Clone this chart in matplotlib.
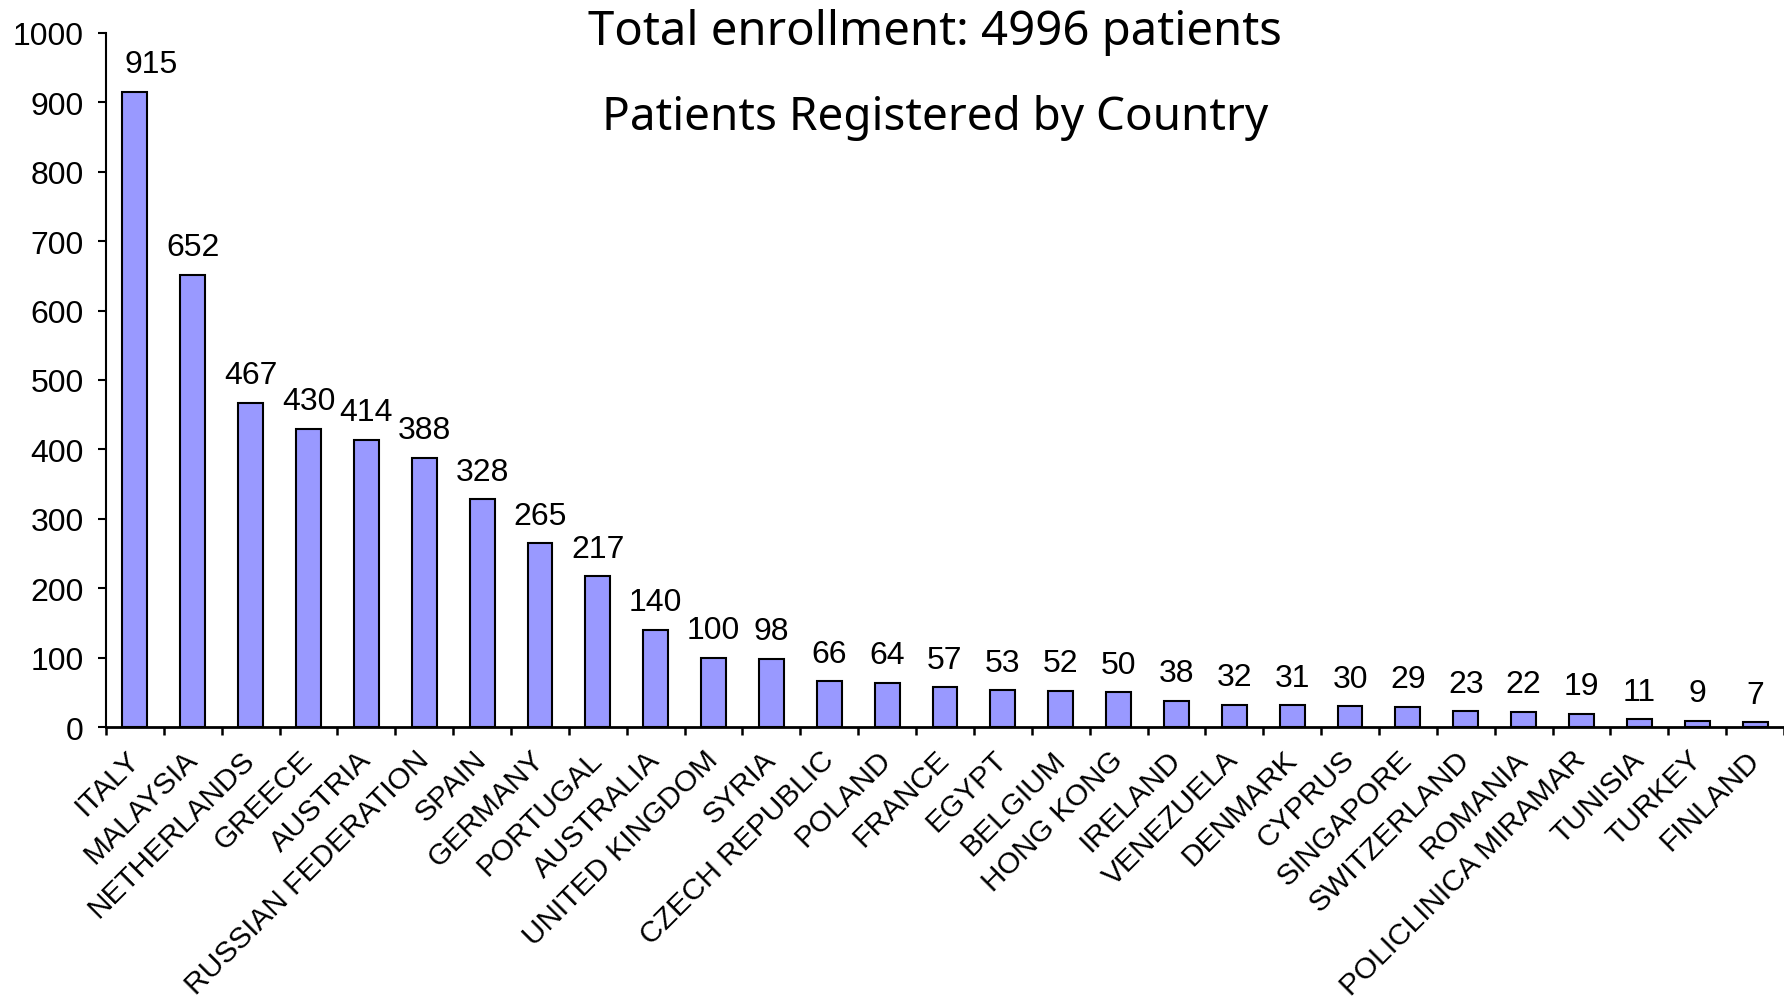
import numpy as np
import matplotlib as mpl
mpl.use('Agg')
import matplotlib.pyplot as plt
from matplotlib.ticker import FixedLocator

# data
countries = ['ITALY', 'MALAYSIA', 'NETHERLANDS', 'GREECE', 'AUSTRIA',
             'RUSSIAN FEDERATION', 'SPAIN', 'GERMANY', 'PORTUGAL',
             'AUSTRALIA', 'UNITED KINGDOM', 'SYRIA', 'CZECH REPUBLIC',
             'POLAND', 'FRANCE', 'EGYPT', 'BELGIUM', 'HONG KONG', 'IRELAND',
             'VENEZUELA', 'DENMARK', 'CYPRUS', 'SINGAPORE', 'SWITZERLAND',
             'ROMANIA', 'POLICLINICA MIRAMAR', 'TUNISIA', 'TURKEY', 'FINLAND']
patients = [915, 652, 467, 430, 414, 388, 328, 265, 217, 140, 100, 98, 66,
            64, 57, 53, 52, 50, 38, 32, 31, 30, 29, 23, 22, 19, 11, 9, 7]
yticks = [0, 100, 200, 300, 400, 500, 600, 700, 800, 900, 1000]
title1 = 'Total enrollment: 4996 patients'
title2 = 'Patients Registered by Country'

plt.rc('font', family='Liberation Sans')

fig = plt.figure(figsize=(17.84, 10.04), dpi=100)
ax = fig.add_axes([106 / 1784, 1 - 728 / 1004, 1 - 106 / 1784, (728 - 34) / 1004])

x = np.arange(len(countries))
ax.bar(x, patients, width=0.43, color='#9999FF', edgecolor='black',
       linewidth=1.5, zorder=3)

# value labels above bars (first one nudged right, clear of the axis)
for xi, v in zip(x, patients):
    dx = 12 if xi == 0 else 0
    ax.annotate(str(v), (xi, v), xytext=(dx, 9), textcoords='offset points',
                ha='center', va='bottom', fontsize=23)

ax.set_xlim(-0.5, len(countries) - 0.5)
ax.set_ylim(0, 1000)
ax.set_yticks(yticks)
ax.set_xticks(x)
ax.set_xticklabels(countries, rotation=45, ha='right', va='center',
                   rotation_mode='anchor', fontsize=21.5)
ax.xaxis.set_minor_locator(FixedLocator(np.arange(-0.5, len(countries), 1.0)))
ax.tick_params(axis='x', which='major', length=0, pad=20)
ax.tick_params(axis='x', which='minor', length=6, width=1.8, direction='out')
ax.tick_params(axis='y', length=6, width=1.5, pad=10, labelsize=23)

for s in ['top', 'right']:
    ax.spines[s].set_visible(False)
ax.spines['left'].set_linewidth(1.5)
ax.spines['bottom'].set_linewidth(2)

fig.text(935 / 1784, 1 - 32 / 1004, title1, ha='center', va='center',
         fontsize=34, family='Noto Sans')
fig.text(935 / 1784, 1 - 118 / 1004, title2, ha='center', va='center',
         fontsize=33, family='Noto Sans')

plt.savefig('out.png', dpi=100)
